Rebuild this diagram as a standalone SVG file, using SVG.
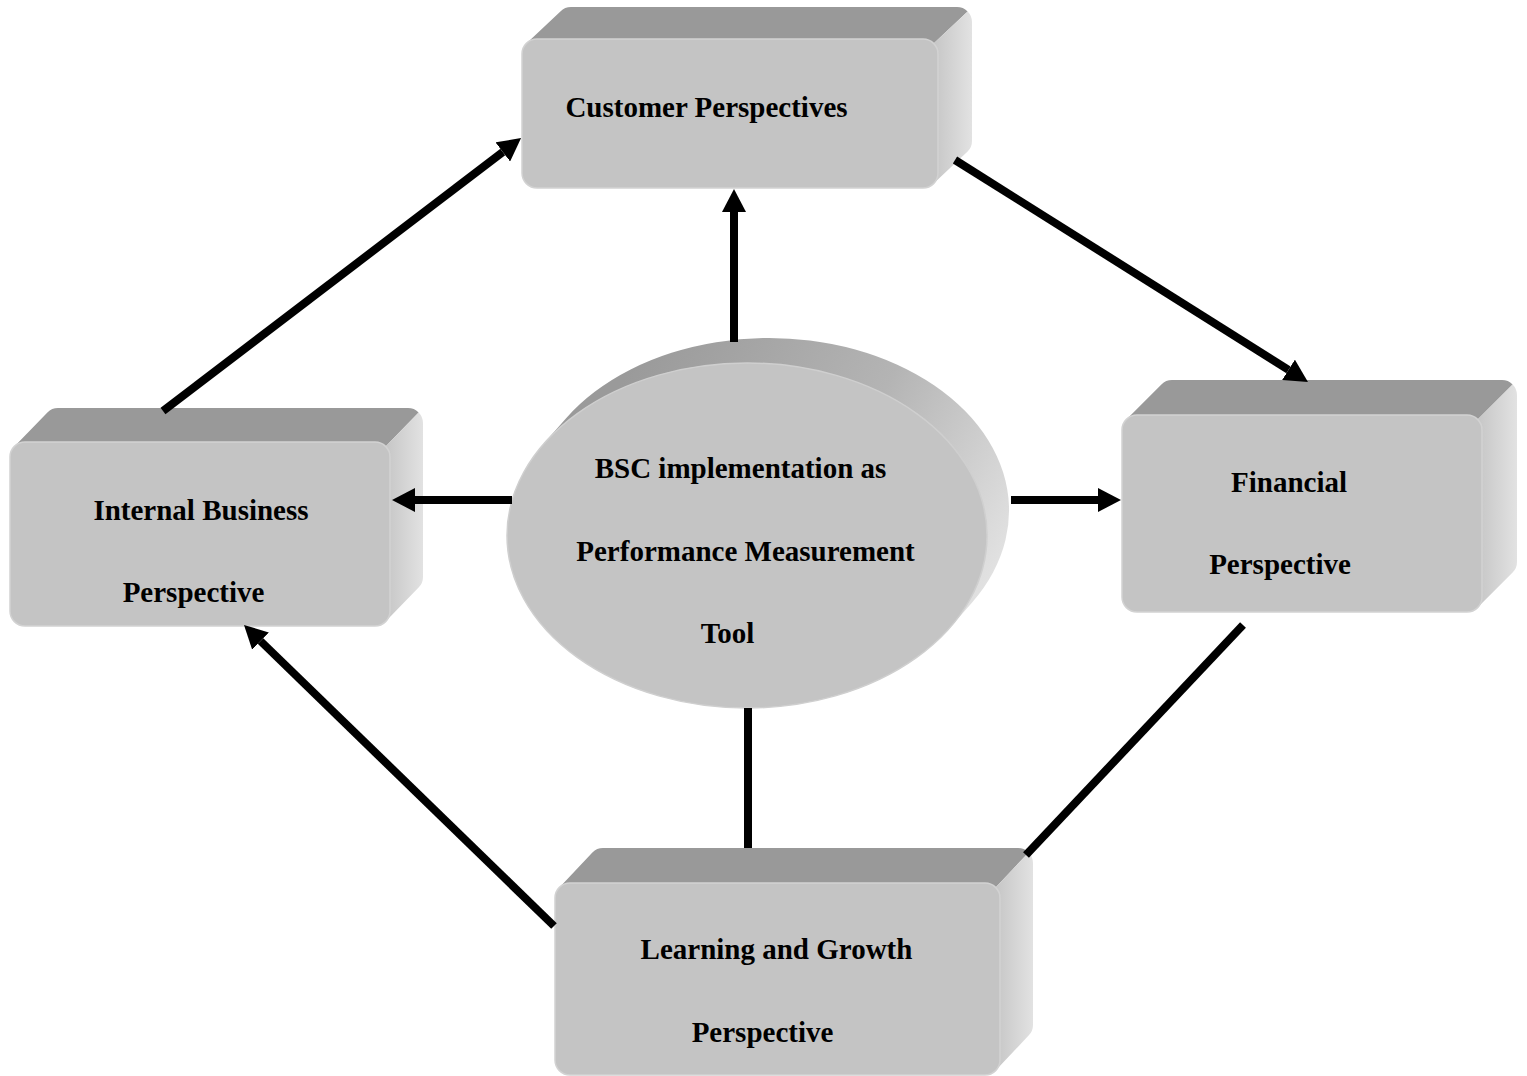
<svg xmlns="http://www.w3.org/2000/svg" width="1527" height="1076" viewBox="0 0 1527 1076">
  <defs>
    <style>
      .front { fill: #c4c4c4; stroke: #d2d2d2; stroke-width: 1.5; }
      .top { fill: #999999; }
      .side { fill: url(#sideGrad); }
      .label { font-family: "Liberation Serif", "Times New Roman", serif; font-weight: bold; font-size: 29px; fill: #000; text-anchor: middle; }
      .conn { stroke: #000; stroke-width: 8; fill: none; }
    </style>
    <linearGradient id="sideGrad" x1="0" y1="0" x2="1" y2="0">
      <stop offset="0" stop-color="#c6c6c6"/>
      <stop offset="1" stop-color="#e2e2e2"/>
    </linearGradient>
    <linearGradient id="rimGrad" gradientUnits="userSpaceOnUse" x1="640" y1="350" x2="1005" y2="560">
      <stop offset="0" stop-color="#9a9a9a"/>
      <stop offset="0.55" stop-color="#b4b4b4"/>
      <stop offset="1" stop-color="#e2e2e2"/>
    </linearGradient>
    <marker id="head" markerUnits="userSpaceOnUse" viewBox="0 0 23 24" markerWidth="23" markerHeight="24" refX="0" refY="12" orient="auto">
      <path d="M0,0 L23,12 L0,24 Z" fill="#000"/>
    </marker>
  </defs>

  <rect width="1527" height="1076" fill="#ffffff"/>

  <!-- Customer Perspectives -->
  <g id="customer" transform="translate(522,39)">
    <path class="top" d="M4.4,4.4 L38.4,-27.6 A15,15 0 0 1 49,-32 L435,-32 A15,15 0 0 1 445.6,-27.6 L411.6,4.4 L401,0 L15,0 Z"/>
    <path class="side" d="M411.6,4.4 L445.6,-27.6 A15,15 0 0 1 450,-17 L450,102 A15,15 0 0 1 445.6,112.6 L411.6,144.6 L416,134 L416,15 Z"/>
    <rect class="front" x="0" y="0" width="416" height="149" rx="15" ry="15"/>
    <text class="label" x="184.5" y="78">Customer Perspectives</text>
  </g>

  <!-- Financial Perspective -->
  <g id="financial" transform="translate(1122,415)">
    <path class="top" d="M4.4,4.4 L39.4,-30.6 A15,15 0 0 1 50,-35 L380,-35 A15,15 0 0 1 390.6,-30.6 L355.6,4.4 L345,0 L15,0 Z"/>
    <path class="side" d="M355.6,4.4 L390.6,-30.6 A15,15 0 0 1 395,-20 L395,147 A15,15 0 0 1 390.6,157.6 L355.6,192.6 L360,182 L360,15 Z"/>
    <rect class="front" x="0" y="0" width="360" height="197" rx="15" ry="15"/>
    <text class="label" x="167" y="77">Financial</text>
    <text class="label" x="158" y="159">Perspective</text>
  </g>

  <!-- Internal Business Perspective -->
  <g id="internal" transform="translate(10,442)">
    <path class="top" d="M4.4,4.4 L37.4,-29.6 A15,15 0 0 1 48,-34 L398,-34 A15,15 0 0 1 408.6,-29.6 L375.6,4.4 L365,0 L15,0 Z"/>
    <path class="side" d="M375.6,4.4 L408.6,-29.6 A15,15 0 0 1 413,-19 L413,135 A15,15 0 0 1 408.6,145.6 L375.6,179.6 L380,169 L380,15 Z"/>
    <rect class="front" x="0" y="0" width="380" height="184" rx="15" ry="15"/>
    <text class="label" x="191" y="78">Internal Business</text>
    <text class="label" x="183.5" y="160">Perspective</text>
  </g>

  <!-- Learning and Growth Perspective -->
  <g id="learning" transform="translate(555,883)">
    <path class="top" d="M4.4,4.4 L37.4,-30.6 A15,15 0 0 1 48,-35 L463,-35 A15,15 0 0 1 473.6,-30.6 L440.6,4.4 L430,0 L15,0 Z"/>
    <path class="side" d="M440.6,4.4 L473.6,-30.6 A15,15 0 0 1 478,-20 L478,142 A15,15 0 0 1 473.6,152.6 L440.6,187.6 L445,177 L445,15 Z"/>
    <rect class="front" x="0" y="0" width="445" height="192" rx="15" ry="15"/>
    <text class="label" x="221.5" y="76">Learning and Growth</text>
    <text class="label" x="207.5" y="159">Perspective</text>
  </g>

  <!-- BSC implementation (extruded ellipse) -->
  <g id="bsc">
    <path d="M544.1,443.3 L566.1,418.3 A240,172.5 0 0 1 971.9,602.7 L949.9,627.7 Z" fill="url(#rimGrad)"/>
    <ellipse cx="747" cy="535.5" rx="240" ry="172.5" fill="#c4c4c4" stroke="#cfcfcf" stroke-width="1.5"/>
    <text class="label" x="740.5" y="478">BSC implementation as</text>
    <text class="label" x="745.5" y="561">Performance Measurement</text>
    <text class="label" x="727.5" y="643">Tool</text>
  </g>

  <!-- connectors -->
  <g id="connectors">
    <line class="conn" x1="734" y1="342" x2="734" y2="212" marker-end="url(#head)"/>
    <line class="conn" x1="512" y1="500" x2="415" y2="500" marker-end="url(#head)"/>
    <line class="conn" x1="1011" y1="500" x2="1098" y2="500" marker-end="url(#head)"/>
    <line class="conn" x1="163" y1="411" x2="502.8" y2="152" marker-end="url(#head)"/>
    <line class="conn" x1="955" y1="160" x2="1288.5" y2="369.8" marker-end="url(#head)"/>
    <line class="conn" x1="554" y1="926" x2="260.5" y2="641" marker-end="url(#head)"/>
    <line class="conn" x1="748" y1="708" x2="748" y2="848"/>
    <line class="conn" x1="1243" y1="625" x2="1026" y2="855"/>
  </g>
</svg>
